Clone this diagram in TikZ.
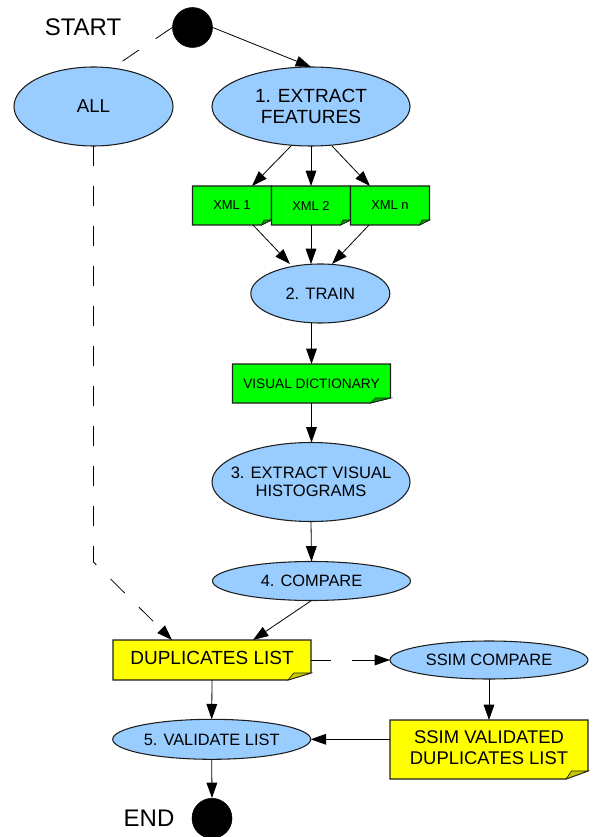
\documentclass[tikz,border=0pt]{standalone}
\usepackage{fontspec}
\setmainfont{Liberation Sans}
\usetikzlibrary{shapes.geometric,arrows.meta,calc,backgrounds}
\definecolor{ellc}{HTML}{99CCFF}
\definecolor{grn}{HTML}{00FF00}
\definecolor{grnd}{HTML}{009E00}
\definecolor{ylw}{HTML}{FFFF00}
\definecolor{ylwd}{HTML}{C8C800}
\definecolor{linec}{HTML}{1E1E1E}
\newcommand\ctr[1]{\makebox[0pt]{\raisebox{-0.5\height}[0pt][0pt]{\vbox{\halign{\hfil##\hfil\cr#1\crcr}}}}}
\newcommand\notebox[5]{%
  \filldraw[fill=#2, draw=linec, line width=0.8pt, line join=miter]
    (#1.north west) -- (#1.north east) -- ($(#1.south east)+(0,-#5)$) --
    ($(#1.south east)+(-#4,0)$) -- (#1.south west) -- cycle;
  \filldraw[fill=#3, draw=linec, line width=0.5pt]
    ($(#1.south east)+(-#4,0)$) -- ($(#1.south east)+(-#4*0.75,-#5)$) --
    ($(#1.south east)+(0,-#5)$) -- cycle;}
\begin{document}
\begin{tikzpicture}[x=0.75pt,y=-0.75pt,
  ell/.style={ellipse, draw=linec, fill=ellc, line width=0.8pt, inner sep=0pt, outer sep=0pt},
  notenode/.style={rectangle, inner sep=0pt, outer sep=0pt},
  dot/.style={circle, fill=black, draw=black, minimum size=30pt, inner sep=0pt},
  lbl/.style={font=\fontsize{18}{20}\selectfont},
  conn/.style={draw=black, line width=0.6pt, -{Triangle[length=11.5pt,width=8pt]}},
  dconn/.style={conn, dash pattern=on 15pt off 15pt},
  dline/.style={draw=black, line width=0.6pt, dash pattern=on 15pt off 15pt}]
\useasboundingbox (0,0) rectangle (601,837);

% nodes
\node[dot] (start) at (192.5,27.5) {};
\node[lbl] (startlbl) at (83,27) {\ctr{START}};
\node[ell, minimum width=119.25pt, minimum height=59.25pt, font=\fontsize{14}{15.5}\selectfont] (all) at (93.5,106.5) {\ctr{ALL}};
\node[ell, minimum width=148.5pt, minimum height=59.25pt, font=\fontsize{14.3}{15.5}\selectfont] (ext) at (311,106.5) {\ctr{1. EXTRACT\cr FEATURES}};
\node[notenode, minimum width=59.25pt, minimum height=29.25pt, font=\fontsize{9.7}{11}\selectfont] (xml1) at (232,205.5) {};
\node[notenode, minimum width=59.25pt, minimum height=29.25pt, font=\fontsize{9.7}{11}\selectfont] (xml2) at (311,205.5) {};
\node[notenode, minimum width=59.25pt, minimum height=29.25pt, font=\fontsize{9.7}{11}\selectfont] (xmln) at (390,205.5) {};
\node[ell, minimum width=104.25pt, minimum height=44.25pt, font=\fontsize{12.4}{14}\selectfont] (train) at (320.3,293.5) {\ctr{2. TRAIN}};
\node[notenode, minimum width=118.5pt, minimum height=29.25pt] (vd) at (311.5,383.5) {};
\node[ell, minimum width=148.5pt, minimum height=59.25pt, font=\fontsize{12.4}{13.75}\selectfont] (xvh) at (311,482) {\ctr{3. EXTRACT VISUAL\cr HISTOGRAMS}};
\node[ell, minimum width=148.5pt, minimum height=29.25pt, font=\fontsize{12.3}{14}\selectfont] (cmp) at (311.5,581) {\ctr{4. COMPARE}};
\node[notenode, minimum width=148.5pt, minimum height=30pt] (dup) at (212,660) {};
\node[ell, minimum width=148.5pt, minimum height=28.5pt, font=\fontsize{12.3}{14}\selectfont] (ssim) at (489,660) {\ctr{SSIM COMPARE}};
\node[notenode, minimum width=148.5pt, minimum height=44.25pt] (sval) at (489,749.5) {};
\node[ell, minimum width=148.5pt, minimum height=30pt, font=\fontsize{12.3}{14}\selectfont] (val) at (211.7,739.3) {\ctr{5. VALIDATE LIST}};
\node[dot] (end) at (212,818.3) {};
\node[lbl] (endlbl) at (149,818) {\ctr{END}};

% note shapes
\notebox{xml1}{grn}{grnd}{10}{5}
\notebox{xml2}{grn}{grnd}{10}{5}
\notebox{xmln}{grn}{grnd}{10}{5}
\notebox{vd}{grn}{grnd}{20}{5}
\notebox{dup}{ylw}{ylwd}{23}{7}
\notebox{sval}{ylw}{ylwd}{22}{8}
\node[font=\fontsize{9.7}{11}\selectfont] (xml1t) at (xml1) {\ctr{XML 1}};
\node[font=\fontsize{9.7}{11}\selectfont] (xml2t) at (xml2) {\ctr{XML 2}};
\node[font=\fontsize{9.7}{11}\selectfont] (xmlnt) at (xmln) {\ctr{XML n}};
\node[font=\fontsize{10.25}{12}\selectfont] (vdt) at (vd) {\ctr{VISUAL DICTIONARY}};
\node[font=\fontsize{14.25}{16}\selectfont] (dupt) at ($(dup)+(0,-2)$) {\ctr{DUPLICATES LIST}};
\node[font=\fontsize{13.8}{16.25}\selectfont] (svalt) at ($(sval)+(0,-2)$) {\ctr{SSIM VALIDATED\cr DUPLICATES LIST}};

% connectors
\draw[conn] (start.east) -- (ext.north);
\draw[dline] (start.west) -- (all.64);
\draw[conn] ($(ext.south)+(-20,0)$) -- ($(xml1.north)+(20,0)$);
\draw[conn] (ext.south) -- (xml2.north);
\draw[conn] ($(ext.south)+(21,0)$) -- ($(xmln.north)+(-20,0)$);
\draw[conn] ($(xml1.south)+(21,0)$) -- ($(xml2.south |- train.north)+(-21,0)$);
\draw[conn] (xml2.south) -- (xml2.south |- train.north);
\draw[conn] ($(xmln.south)+(-21,0)$) -- ($(xml2.south |- train.north)+(21,0)$);
\draw[conn] (vd.north |- train.south) -- (vd.north);
\draw[conn] (vd.south) -- (vd.south |- xvh.north);
\draw[conn] (xvh.south) -- (cmp.north);
\draw[conn] (cmp.south) -- ($(dup.north)+(41,0)$);
\coordinate (dupin) at ($(dup.north)+(-40,0)$);
\draw[dconn] (all.south) -- ($(all.south |- dupin)+(0,-78)$) -- (dupin);
\draw[conn, dash pattern=on 15pt off 15.75pt on 40pt] (dup.east) -- (ssim.west);
\draw[conn] (ssim.south) -- (sval.north);
\draw[conn] (sval.west |- val.east) -- (val.east);
\draw[conn] (dup.south) -- (val.north);
\draw[conn] (val.south) -- (end.north);
\end{tikzpicture}
\end{document}
